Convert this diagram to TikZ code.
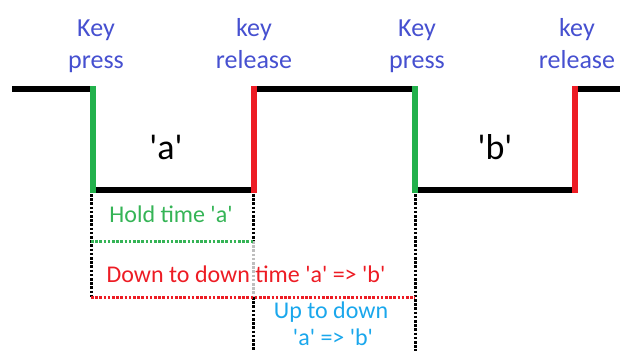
\documentclass[tikz,border=0pt]{standalone}
\usepackage{fontspec}
% plain font family, so that ' stays a straight quote
\newfontfamily\lblfont{Carlito}
\definecolor{presscol}{HTML}{22B14C}
\definecolor{releasecol}{HTML}{ED1C24}
\definecolor{eventcol}{HTML}{4650D0}
\definecolor{holdcol}{HTML}{35B456}
\definecolor{uptodowncol}{HTML}{1AA7EC}
\definecolor{guidegray}{HTML}{BEBEBE}
\tikzset{
  level/.style={line width=5.5pt, black},
  pressedge/.style={line width=6pt, presscol},
  releaseedge/.style={line width=6pt, releasecol},
  guide/.style={line width=3pt, dash pattern=on 2.6pt off 1.6pt},
  eventlbl/.style={anchor=base, inner sep=0pt, text=eventcol, font=\lblfont\fontsize{26}{30}\selectfont},
  keylbl/.style={anchor=base, inner sep=0pt, font=\lblfont\fontsize{36}{40}\selectfont},
  timelbl/.style={anchor=base, inner sep=0pt, font=\lblfont\fontsize{24}{28}\selectfont}
}
\begin{document}
\begin{tikzpicture}[x=1pt, y=-1pt]
\useasboundingbox (0,0) rectangle (620,351);

% signal corners
\coordinate (s0) at (12,89);
\coordinate (p1t) at (93,89);  \coordinate (p1b) at (93,190);
\coordinate (r1t) at (254,89); \coordinate (r1b) at (254,190);
\coordinate (p2t) at (415,89); \coordinate (p2b) at (415,190);
\coordinate (r2t) at (575,89); \coordinate (r2b) at (575,190);
\coordinate (e0) at (620,89);

% key signal levels
\draw[level] (s0) -- (p1t);
\draw[level] (p1b) -- (r1b);
\draw[level] (r1t) -- (p2t);
\draw[level] (p2b) -- (r2b);
\draw[level] (r2t) -- (e0);

% press / release edges
\draw[pressedge] ([yshift=3pt]p1t) -- ([yshift=-3pt]p1b);
\draw[releaseedge] ([yshift=3pt]r1t) -- ([yshift=-3pt]r1b);
\draw[pressedge] ([yshift=3pt]p2t) -- ([yshift=-3pt]p2b);
\draw[releaseedge] ([yshift=3pt]r2t) -- ([yshift=-3pt]r2b);

% timing guides
\coordinate (g1a) at (91,194);  \coordinate (g1b) at (91,297);
\coordinate (g2a) at (253,194); \coordinate (g2m) at (253,241);
\coordinate (g2n) at (253,297); \coordinate (g2b) at (253,351);
\coordinate (g3a) at (415,194); \coordinate (g3m) at (415,297);
\coordinate (g3b) at (415,351);
\coordinate (h0) at (91,241);
\draw[guide, black] (g1a) -- (g1b);
\draw[guide, black] (g2a) -- (g2m);
\draw[guide, guidegray] (g2m) -- (g2n);
\draw[guide, black] (g2n) -- (g2b);
\draw[guide, black] (g3a) -- (g3b);
\draw[guide, holdcol] (h0) -- (g2m);
\draw[guide, releasecol] (g1b) -- (g3m);

% event labels
\node[eventlbl] (kp1) at (96,36) {Key};
\node[eventlbl] (kp1b) at (96,68) {press};
\node[eventlbl] (kr1) at (254,36) {key};
\node[eventlbl] (kr1b) at (254,68) {release};
\node[eventlbl] (kp2) at (417,36) {Key};
\node[eventlbl] (kp2b) at (417,68) {press};
\node[eventlbl] (kr2) at (577,36) {key};
\node[eventlbl] (kr2b) at (577,68) {release};

% key names
\node[keylbl] (ka) at (166,159) {'a'};
\node[keylbl] (kb) at (495,159) {'b'};

% interval labels
\node[timelbl, text=holdcol] (hold) at (171,222) {Hold time 'a'};
\node[timelbl, text=releasecol] (d2d) at (246,282) {Down to down time 'a' => 'b'};
\node[timelbl, text=uptodowncol] (u2d) at (331,318) {Up to down};
\node[timelbl, text=uptodowncol] (u2db) at (333,345) {'a' => 'b'};
\end{tikzpicture}
\end{document}
